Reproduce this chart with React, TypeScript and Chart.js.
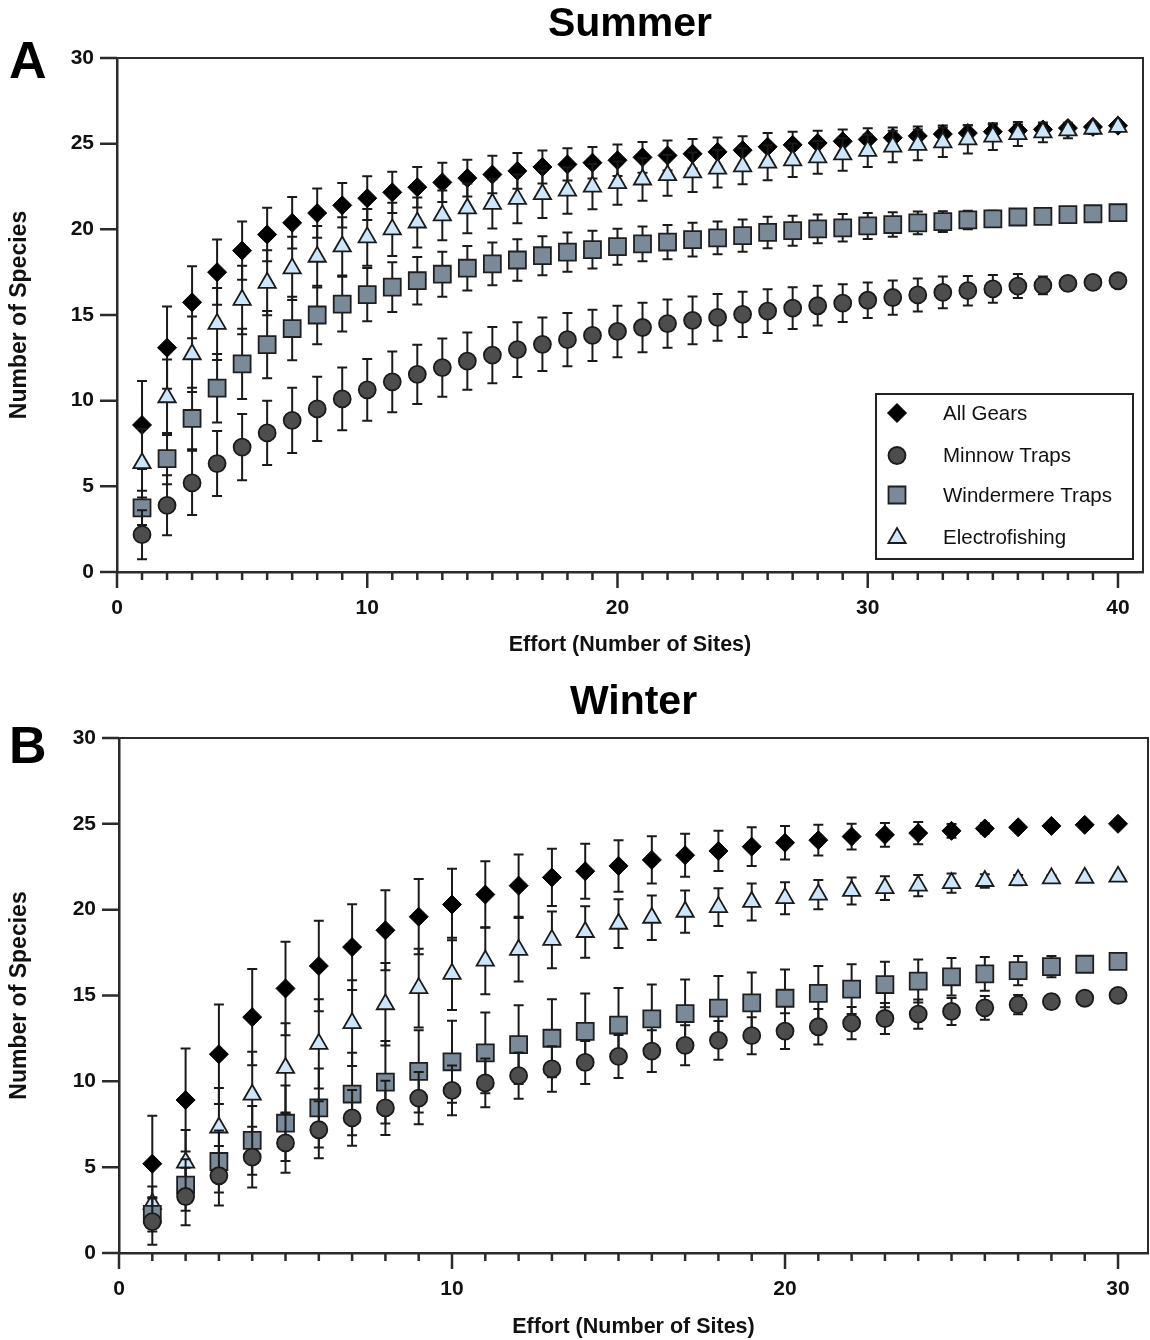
import React, { useEffect, useRef } from 'react';
import { Chart, registerables } from 'chart.js';

Chart.register(...registerables);

const FONT = "'Liberation Sans', Arial, Helvetica, sans-serif";

// ---------- Data ----------
const seriesLabels = ['All Gears', 'Minnow Traps', 'Windermere Traps', 'Electrofishing'];

const summerEffort = [1, 2, 3, 4, 5, 6, 7, 8, 9, 10, 11, 12, 13, 14, 15, 16, 17, 18, 19, 20,
  21, 22, 23, 24, 25, 26, 27, 28, 29, 30, 31, 32, 33, 34, 35, 36, 37, 38, 39, 40];
const winterEffort = [1, 2, 3, 4, 5, 6, 7, 8, 9, 10, 11, 12, 13, 14, 15, 16, 17, 18, 19, 20,
  21, 22, 23, 24, 25, 26, 27, 28, 29, 30];

const summerXTicks = [0, 10, 20, 30, 40];
const winterXTicks = [0, 10, 20, 30];
const yTicks = [0, 5, 10, 15, 20, 25, 30];

// Summer means / SD
const summerAllGears = [8.58, 13.09, 15.74, 17.5, 18.76, 19.7, 20.38, 20.95, 21.4, 21.82, 22.16, 22.46, 22.74, 22.99, 23.2, 23.41, 23.64, 23.79, 23.89, 24.03,
  24.2, 24.31, 24.41, 24.52, 24.62, 24.82, 24.93, 25.04, 25.14, 25.25, 25.35, 25.45, 25.56, 25.62, 25.7, 25.77, 25.83, 25.91, 25.98, 26.05];
const summerAllGearsSD = [2.57, 2.4, 2.1, 1.9, 1.7, 1.56, 1.5, 1.44, 1.3, 1.28, 1.2, 1.18, 1.15, 1.07, 1.1, 1.04, 0.96, 0.94, 0.92, 0.92,
  0.9, 0.88, 0.86, 0.84, 0.82, 0.8, 0.76, 0.72, 0.68, 0.65, 0.6, 0.55, 0.5, 0.45, 0.4, 0.35, 0.3, 0.22, 0.15, 0];
const summerMinnow = [2.18, 3.89, 5.2, 6.33, 7.29, 8.12, 8.85, 9.52, 10.1, 10.63, 11.1, 11.54, 11.93, 12.31, 12.66, 12.98, 13.29, 13.56, 13.81, 14.04,
  14.27, 14.5, 14.69, 14.86, 15.04, 15.23, 15.4, 15.54, 15.69, 15.86, 16.02, 16.17, 16.32, 16.42, 16.52, 16.69, 16.73, 16.84, 16.9, 17.0];
const summerMinnowSD = [1.43, 1.75, 1.87, 1.9, 1.93, 1.88, 1.9, 1.87, 1.83, 1.8, 1.77, 1.73, 1.7, 1.67, 1.64, 1.6, 1.56, 1.55, 1.5, 1.5,
  1.45, 1.41, 1.39, 1.36, 1.32, 1.28, 1.22, 1.16, 1.1, 1.04, 1.0, 0.96, 0.92, 0.86, 0.81, 0.7, 0.52, 0.4, 0.2, 0];
const summerWindermere = [3.74, 6.62, 8.96, 10.73, 12.15, 13.27, 14.21, 15.0, 15.63, 16.19, 16.63, 17.0, 17.38, 17.73, 17.98, 18.21, 18.46, 18.67, 18.82, 18.99,
  19.15, 19.26, 19.4, 19.5, 19.63, 19.82, 19.92, 20.03, 20.09, 20.2, 20.28, 20.38, 20.45, 20.55, 20.61, 20.72, 20.76, 20.86, 20.91, 20.97];
const summerWindermereSD = [1.0, 1.5, 1.8, 2.0, 2.05, 1.96, 1.85, 1.7, 1.6, 1.56, 1.45, 1.38, 1.31, 1.3, 1.25, 1.21, 1.14, 1.14, 1.1, 1.05,
  1.02, 1.0, 0.98, 0.96, 0.94, 0.92, 0.88, 0.84, 0.8, 0.76, 0.72, 0.66, 0.6, 0.54, 0.47, 0.4, 0.32, 0.24, 0.15, 0];
const summerElectro = [6.35, 10.2, 12.71, 14.48, 15.88, 16.88, 17.72, 18.4, 19.0, 19.53, 20.0, 20.4, 20.82, 21.22, 21.49, 21.78, 22.05, 22.26, 22.49, 22.7,
  22.91, 23.16, 23.33, 23.54, 23.68, 23.89, 24.03, 24.2, 24.37, 24.58, 24.83, 24.93, 25.08, 25.25, 25.41, 25.56, 25.66, 25.77, 25.87, 25.98];
const summerElectroSD = [2.0, 2.2, 2.2, 2.1, 2.0, 1.9, 1.85, 1.8, 1.7, 1.65, 1.55, 1.46, 1.45, 1.45, 1.44, 1.42, 1.39, 1.35, 1.32, 1.26,
  1.24, 1.2, 1.15, 1.1, 1.05, 1.02, 0.98, 0.96, 0.95, 0.94, 0.92, 0.9, 0.86, 0.82, 0.78, 0.7, 0.58, 0.45, 0.3, 0];

// Winter means / SD
const winterAllGears = [5.2, 8.91, 11.58, 13.74, 15.41, 16.72, 17.82, 18.8, 19.59, 20.3, 20.88, 21.4, 21.88, 22.24, 22.55, 22.9, 23.17, 23.42, 23.67, 23.9,
  24.05, 24.26, 24.36, 24.46, 24.59, 24.73, 24.8, 24.88, 24.94, 25.0];
const winterAllGearsSD = [2.8, 3.0, 2.9, 2.8, 2.72, 2.64, 2.5, 2.33, 2.19, 2.08, 1.94, 1.81, 1.67, 1.6, 1.5, 1.38, 1.25, 1.17, 1.13, 0.98,
  0.9, 0.75, 0.69, 0.65, 0.4, 0.3, 0.2, 0.1, 0.05, 0];
const winterMinnow = [1.83, 3.29, 4.5, 5.58, 6.41, 7.18, 7.87, 8.45, 9.02, 9.47, 9.91, 10.33, 10.72, 11.1, 11.45, 11.76, 12.1, 12.39, 12.66, 12.93,
  13.18, 13.39, 13.66, 13.91, 14.07, 14.28, 14.47, 14.64, 14.84, 15.01];
const winterMinnowSD = [1.35, 1.67, 1.73, 1.77, 1.73, 1.66, 1.62, 1.58, 1.52, 1.45, 1.42, 1.35, 1.33, 1.25, 1.25, 1.22, 1.17, 1.13, 1.08, 1.04,
  1.04, 0.94, 0.9, 0.85, 0.79, 0.69, 0.56, 0.4, 0.2, 0];
const winterWindermere = [2.25, 3.96, 5.33, 6.56, 7.56, 8.45, 9.26, 9.95, 10.58, 11.14, 11.66, 12.14, 12.51, 12.91, 13.28, 13.64, 13.95, 14.26, 14.57, 14.84,
  15.12, 15.37, 15.64, 15.84, 16.09, 16.26, 16.45, 16.68, 16.82, 16.99];
const winterWindermereSD = [1.0, 1.5, 1.8, 2.0, 2.2, 2.3, 2.4, 2.4, 2.4, 2.39, 2.35, 2.29, 2.27, 2.2, 2.15, 2.0, 1.98, 1.88, 1.77, 1.67,
  1.6, 1.45, 1.33, 1.25, 1.09, 0.98, 0.85, 0.62, 0.35, 0];
const winterElectro = [2.87, 5.27, 7.31, 9.22, 10.78, 12.18, 13.39, 14.49, 15.43, 16.26, 17.03, 17.66, 18.24, 18.7, 19.18, 19.53, 19.88, 20.15, 20.45, 20.67,
  20.88, 21.09, 21.26, 21.4, 21.55, 21.67, 21.72, 21.82, 21.86, 21.92];
const winterElectroSD = [1.0, 1.9, 2.3, 2.5, 2.6, 2.6, 2.5, 2.4, 2.3, 2.1, 1.95, 1.85, 1.65, 1.5, 1.42, 1.3, 1.23, 1.1, 1.08, 0.93,
  0.85, 0.79, 0.69, 0.62, 0.56, 0.4, 0.3, 0.2, 0.1, 0];

// ---------- Styles ----------
type MarkerStyle = {
  pointStyle: string;
  radius: number;
  fill: string;
  stroke: string;
  borderWidth: number;
  order: number;
};

const markerStyles: MarkerStyle[] = [
  { pointStyle: 'rectRot', radius: 9.5, fill: '#000000', stroke: '#000000', borderWidth: 1, order: 3 },
  { pointStyle: 'circle', radius: 8.5, fill: '#4d4d4d', stroke: '#1a1a1a', borderWidth: 1.8, order: 0 },
  { pointStyle: 'rect', radius: 12, fill: '#7b8a99', stroke: '#1f1f1f', borderWidth: 1.8, order: 1 },
  { pointStyle: 'triangle', radius: 10, fill: '#cde6fb', stroke: '#1a1a1a', borderWidth: 1.8, order: 2 },
];

const AXIS_COLOR = '#2b2b2b';
const TEXT_COLOR = '#111111';

function drawMarker(ctx: CanvasRenderingContext2D, m: MarkerStyle, x: number, y: number) {
  const r = m.radius;
  ctx.beginPath();
  if (m.pointStyle === 'circle') {
    ctx.arc(x, y, r, 0, Math.PI * 2);
  } else if (m.pointStyle === 'rect') {
    const s = r * Math.SQRT1_2;
    ctx.rect(x - s, y - s, 2 * s, 2 * s);
  } else if (m.pointStyle === 'rectRot') {
    ctx.moveTo(x - r, y);
    ctx.lineTo(x, y - r);
    ctx.lineTo(x + r, y);
    ctx.lineTo(x, y + r);
    ctx.closePath();
  } else if (m.pointStyle === 'triangle') {
    let rad = 0;
    ctx.moveTo(x + Math.sin(rad) * r, y - Math.cos(rad) * r);
    rad += (2 * Math.PI) / 3;
    ctx.lineTo(x + Math.sin(rad) * r, y - Math.cos(rad) * r);
    rad += (2 * Math.PI) / 3;
    ctx.lineTo(x + Math.sin(rad) * r, y - Math.cos(rad) * r);
    ctx.closePath();
  }
  ctx.fillStyle = m.fill;
  ctx.fill();
  ctx.lineWidth = m.borderWidth;
  ctx.strokeStyle = m.stroke;
  ctx.stroke();
}

type PanelConfig = {
  title: string;
  letter: string;
  letterY: number;
  effort: number[];
  means: number[][];
  sds: number[][];
  xTicks: number[];
  xMax: number;
  chartLeft: number;
  chartRight: number;
  chartBottom: number;
  titlePadTop: number;
  titlePadBottom: number;
  xTitlePadBottom: number;
  showLegend: boolean;
};

const CANVAS_W = 1150;
const CANVAS_H = 670;

function makeChart(canvas: HTMLCanvasElement, cfg: PanelConfig) {
  const errorBars = {
    id: 'errorBars',
    beforeDatasetDraw(chart: any, args: any) {
      const sd = cfg.sds[args.index];
      const mean = cfg.means[args.index];
      if (!sd) return;
      const { ctx } = chart;
      const yScale = chart.scales.y;
      ctx.save();
      ctx.strokeStyle = '#1a1a1a';
      ctx.lineWidth = 2;
      args.meta.data.forEach((pt: any, j: number) => {
        const s = sd[j];
        if (!s) return;
        const x = pt.x;
        const y1 = yScale.getPixelForValue(mean[j] + s);
        const y2 = yScale.getPixelForValue(mean[j] - s);
        ctx.beginPath();
        ctx.moveTo(x, y1);
        ctx.lineTo(x, y2);
        ctx.moveTo(x - 5, y1);
        ctx.lineTo(x + 5, y1);
        ctx.moveTo(x - 5, y2);
        ctx.lineTo(x + 5, y2);
        ctx.stroke();
      });
      ctx.restore();
    },
  };

  const deco = {
    id: 'deco',
    afterDraw(chart: any) {
      const { ctx, chartArea } = chart;
      const { left, right, top, bottom } = chartArea;
      const xs = chart.scales.x;
      const ys = chart.scales.y;
      ctx.save();
      ctx.strokeStyle = AXIS_COLOR;
      ctx.lineWidth = 2;
      ctx.beginPath();
      ctx.moveTo(left, top);
      ctx.lineTo(right, top);
      ctx.lineTo(right, bottom);
      ctx.stroke();

      ctx.lineWidth = 2.5;
      ctx.beginPath();
      cfg.effort.forEach((v) => {
        const px = xs.getPixelForValue(v);
        ctx.moveTo(px, bottom);
        ctx.lineTo(px, bottom + 8);
      });
      cfg.xTicks.forEach((v) => {
        const px = xs.getPixelForValue(v);
        ctx.moveTo(px, bottom);
        ctx.lineTo(px, bottom + 16);
      });
      yTicks.forEach((v) => {
        const py = ys.getPixelForValue(v);
        ctx.moveTo(left - 17, py);
        ctx.lineTo(left, py);
      });
      ctx.stroke();

      // panel letter
      ctx.fillStyle = '#000';
      ctx.font = `bold 52px ${FONT}`;
      ctx.textAlign = 'left';
      ctx.textBaseline = 'alphabetic';
      ctx.fillText(cfg.letter, 9, cfg.letterY);

      // legend
      if (cfg.showLegend) {
        const bx = right - 267;
        const by = bottom - 178;
        const bw = 257;
        const bh = 165;
        ctx.fillStyle = '#ffffff';
        ctx.fillRect(bx, by, bw, bh);
        ctx.strokeStyle = '#222';
        ctx.lineWidth = 2;
        ctx.strokeRect(bx, by, bw, bh);
        const rows = [19, 61.5, 101, 143];
        ctx.font = `20.5px ${FONT}`;
        ctx.textBaseline = 'middle';
        seriesLabels.forEach((lab, i) => {
          const yy = by + rows[i];
          drawMarker(ctx, markerStyles[i], bx + 21, yy + (markerStyles[i].pointStyle === 'triangle' ? 1 : 0));
          ctx.fillStyle = '#111';
          ctx.fillText(lab, bx + 67, yy + 1);
        });
      }
      ctx.restore();
    },
  };

  const datasets = cfg.means.map((m, i) => ({
    label: seriesLabels[i],
    data: cfg.effort.map((x, j) => ({ x, y: m[j] })),
    showLine: false,
    pointStyle: markerStyles[i].pointStyle,
    pointRadius: markerStyles[i].radius,
    pointHoverRadius: markerStyles[i].radius,
    pointBackgroundColor: markerStyles[i].fill,
    pointBorderColor: markerStyles[i].stroke,
    pointBorderWidth: markerStyles[i].borderWidth,
    order: markerStyles[i].order,
    clip: 20,
  }));

  const tickFont = { family: FONT, size: 21, weight: 'bold' as const };

  return new Chart(canvas, {
    type: 'scatter',
    data: { datasets },
    plugins: [errorBars, deco],
    options: {
      animation: false,
      responsive: false,
      maintainAspectRatio: false,
      events: [],
      layout: {
        autoPadding: false,
        padding: { left: 0, right: CANVAS_W - cfg.chartRight, top: 0, bottom: 0 },
      },
      plugins: {
        legend: { display: false },
        tooltip: { enabled: false },
        title: {
          display: true,
          text: cfg.title,
          fullSize: false,
          color: '#000',
          font: { family: FONT, size: 41, weight: 'bold' },
          padding: { top: cfg.titlePadTop, bottom: cfg.titlePadBottom },
        },
      },
      scales: {
        x: {
          type: 'linear',
          min: 0,
          max: cfg.xMax,
          afterFit: (s: any) => {
            s.height = CANVAS_H - cfg.chartBottom;
            s.paddingLeft = 0;
            s.paddingRight = 0;
            s.paddingTop = 0;
            s.paddingBottom = 0;
          },
          afterBuildTicks: (s: any) => {
            s.ticks = cfg.xTicks.map((v) => ({ value: v }));
          },
          grid: { display: false, drawTicks: false },
          border: { display: true, color: AXIS_COLOR, width: 2.5 },
          ticks: {
            autoSkip: false,
            maxRotation: 0,
            padding: 23.5,
            color: TEXT_COLOR,
            font: tickFont,
          },
          title: {
            display: true,
            text: 'Effort (Number of Sites)',
            color: TEXT_COLOR,
            font: { family: FONT, size: 21.5, weight: 'bold' },
            padding: { top: 0, bottom: cfg.xTitlePadBottom },
          },
        },
        y: {
          type: 'linear',
          min: 0,
          max: 30,
          afterFit: (s: any) => {
            s.width = cfg.chartLeft;
            s.paddingLeft = 0;
            s.paddingRight = 0;
            s.paddingTop = 0;
            s.paddingBottom = 0;
          },
          afterBuildTicks: (s: any) => {
            s.ticks = yTicks.map((v) => ({ value: v }));
          },
          grid: { display: false, drawTicks: false },
          border: { display: true, color: AXIS_COLOR, width: 2.5 },
          ticks: {
            autoSkip: false,
            padding: 23,
            color: TEXT_COLOR,
            font: tickFont,
          },
          title: {
            display: true,
            text: 'Number of Species',
            color: TEXT_COLOR,
            font: { family: FONT, size: 23, weight: 'bold' },
            padding: { top: 6.2, bottom: 0 },
          },
        },
      },
    } as any,
  });
}

const summerCfg: PanelConfig = {
  title: 'Summer',
  letter: 'A',
  letterY: 78,
  effort: summerEffort,
  means: [summerAllGears, summerMinnow, summerWindermere, summerElectro],
  sds: [summerAllGearsSD, summerMinnowSD, summerWindermereSD, summerElectroSD],
  xTicks: summerXTicks,
  xMax: 41,
  chartLeft: 117,
  chartRight: 1143,
  chartBottom: 572,
  titlePadTop: 0,
  titlePadBottom: 8.8,
  xTitlePadBottom: 12.4,
  showLegend: true,
};

const winterCfg: PanelConfig = {
  title: 'Winter',
  letter: 'B',
  letterY: 93,
  effort: winterEffort,
  means: [winterAllGears, winterMinnow, winterWindermere, winterElectro],
  sds: [winterAllGearsSD, winterMinnowSD, winterWindermereSD, winterElectroSD],
  xTicks: winterXTicks,
  xMax: 30.9,
  chartLeft: 119,
  chartRight: 1148,
  chartBottom: 583,
  titlePadTop: 8.4,
  titlePadBottom: 10.4,
  xTitlePadBottom: 0.4,
  showLegend: false,
};

function Panel({ cfg }: { cfg: PanelConfig }) {
  const ref = useRef<HTMLCanvasElement | null>(null);
  useEffect(() => {
    if (!ref.current) return;
    const chart = makeChart(ref.current, cfg);
    return () => chart.destroy();
  }, [cfg]);
  return (
    <canvas
      ref={ref}
      width={CANVAS_W}
      height={CANVAS_H}
      style={{ display: 'block', width: CANVAS_W, height: CANVAS_H }}
    />
  );
}

export default function App() {
  return (
    <div
      style={{
        position: 'absolute',
        left: 0,
        top: 0,
        width: CANVAS_W,
        height: CANVAS_H * 2,
        background: '#ffffff',
      }}
    >
      <Panel cfg={summerCfg} />
      <Panel cfg={winterCfg} />
    </div>
  );
}
